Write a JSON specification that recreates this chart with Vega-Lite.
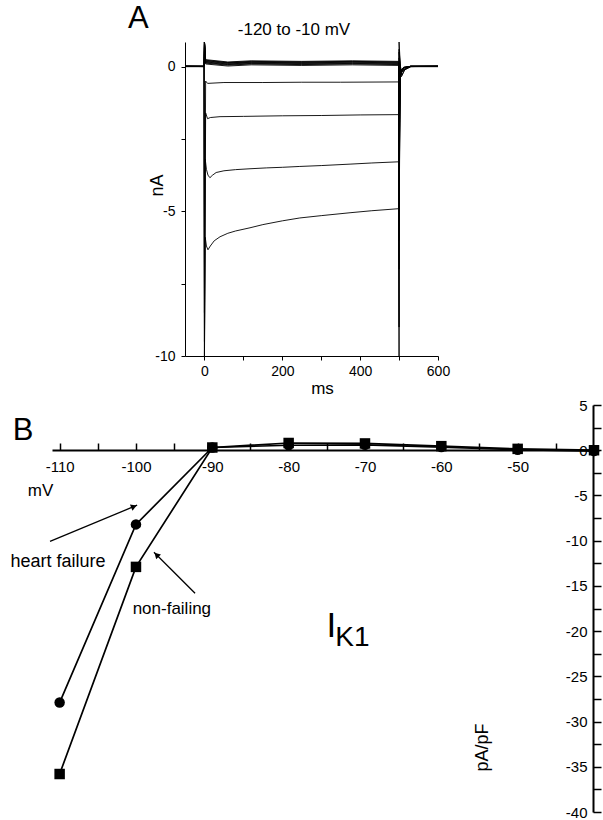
{
  "$schema": "https://vega.github.io/schema/vega-lite/v6.json",
  "width": 603,
  "height": 820,
  "autosize": {"type": "none"},
  "padding": 0,
  "config": {
    "font": "Liberation Sans",
    "view": {"stroke": null},
    "axis": {"grid": false, "domainColor": "black", "tickColor": "black", "labelColor": "black", "titleColor": "black", "labelFont": "Liberation Sans", "titleFont": "Liberation Sans", "titleFontWeight": "normal", "labelFlush": false, "labelOverlap": false},
    "text": {"font": "Liberation Sans", "color": "black"}
  },
  "resolve": {"scale": {"x": "independent", "y": "independent", "shape": "independent"}, "axis": {"x": "independent", "y": "independent"}},
  "layer": [
    {
      "layer": [
        {
          "data": {"values": [
            {"v": -120, "i": 0, "t": -50, "I": 0.02}, {"v": -120, "i": 1, "t": -1, "I": 0}, {"v": -120, "i": 2, "t": 0, "I": -10}, {"v": -120, "i": 3, "t": 2, "I": -5.9}, {"v": -120, "i": 4, "t": 5, "I": -6.2}, {"v": -120, "i": 5, "t": 9, "I": -6.33}, {"v": -120, "i": 6, "t": 15, "I": -6.2}, {"v": -120, "i": 7, "t": 25, "I": -6.02}, {"v": -120, "i": 8, "t": 40, "I": -5.88}, {"v": -120, "i": 9, "t": 60, "I": -5.76}, {"v": -120, "i": 10, "t": 80, "I": -5.68}, {"v": -120, "i": 11, "t": 117, "I": -5.57}, {"v": -120, "i": 12, "t": 150, "I": -5.46}, {"v": -120, "i": 13, "t": 200, "I": -5.33}, {"v": -120, "i": 14, "t": 245, "I": -5.23}, {"v": -120, "i": 15, "t": 300, "I": -5.15}, {"v": -120, "i": 16, "t": 374, "I": -5.05}, {"v": -120, "i": 17, "t": 430, "I": -4.98}, {"v": -120, "i": 18, "t": 499, "I": -4.91}, {"v": -120, "i": 19, "t": 500, "I": -10}, {"v": -120, "i": 20, "t": 500, "I": 0.85}, {"v": -120, "i": 21, "t": 503, "I": 0.1}, {"v": -120, "i": 22, "t": 506, "I": -0.35}, {"v": -120, "i": 23, "t": 515, "I": -0.1}, {"v": -120, "i": 24, "t": 530, "I": 0}, {"v": -120, "i": 25, "t": 600, "I": 0.02},
            {"v": -110, "i": 0, "t": -50, "I": 0.01}, {"v": -110, "i": 1, "t": -1, "I": 0}, {"v": -110, "i": 2, "t": 0, "I": -10}, {"v": -110, "i": 3, "t": 2, "I": -3.2}, {"v": -110, "i": 4, "t": 5, "I": -3.55}, {"v": -110, "i": 5, "t": 9, "I": -3.75}, {"v": -110, "i": 6, "t": 14, "I": -3.84}, {"v": -110, "i": 7, "t": 20, "I": -3.76}, {"v": -110, "i": 8, "t": 30, "I": -3.66}, {"v": -110, "i": 9, "t": 50, "I": -3.6}, {"v": -110, "i": 10, "t": 80, "I": -3.56}, {"v": -110, "i": 11, "t": 117, "I": -3.53}, {"v": -110, "i": 12, "t": 160, "I": -3.5}, {"v": -110, "i": 13, "t": 200, "I": -3.48}, {"v": -110, "i": 14, "t": 245, "I": -3.45}, {"v": -110, "i": 15, "t": 300, "I": -3.42}, {"v": -110, "i": 16, "t": 374, "I": -3.37}, {"v": -110, "i": 17, "t": 430, "I": -3.33}, {"v": -110, "i": 18, "t": 499, "I": -3.29}, {"v": -110, "i": 19, "t": 500, "I": -9}, {"v": -110, "i": 20, "t": 500, "I": 0.6}, {"v": -110, "i": 21, "t": 503, "I": 0.05}, {"v": -110, "i": 22, "t": 507, "I": -0.3}, {"v": -110, "i": 23, "t": 515, "I": -0.08}, {"v": -110, "i": 24, "t": 530, "I": 0}, {"v": -110, "i": 25, "t": 600, "I": 0.01},
            {"v": -100, "i": 0, "t": -50, "I": 0}, {"v": -100, "i": 1, "t": -1, "I": 0}, {"v": -100, "i": 2, "t": 0, "I": -9.5}, {"v": -100, "i": 3, "t": 3, "I": -1.6}, {"v": -100, "i": 4, "t": 8, "I": -1.8}, {"v": -100, "i": 5, "t": 15, "I": -1.76}, {"v": -100, "i": 6, "t": 40, "I": -1.73}, {"v": -100, "i": 7, "t": 100, "I": -1.72}, {"v": -100, "i": 8, "t": 200, "I": -1.7}, {"v": -100, "i": 9, "t": 300, "I": -1.69}, {"v": -100, "i": 10, "t": 400, "I": -1.67}, {"v": -100, "i": 11, "t": 499, "I": -1.66}, {"v": -100, "i": 12, "t": 500, "I": -7}, {"v": -100, "i": 13, "t": 500, "I": 0.5}, {"v": -100, "i": 14, "t": 504, "I": -0.2}, {"v": -100, "i": 15, "t": 510, "I": -0.15}, {"v": -100, "i": 16, "t": 530, "I": 0}, {"v": -100, "i": 17, "t": 600, "I": 0},
            {"v": -90, "i": 0, "t": -50, "I": 0}, {"v": -90, "i": 1, "t": -1, "I": 0}, {"v": -90, "i": 2, "t": 0, "I": -8.5}, {"v": -90, "i": 3, "t": 3, "I": -0.5}, {"v": -90, "i": 4, "t": 8, "I": -0.58}, {"v": -90, "i": 5, "t": 50, "I": -0.55}, {"v": -90, "i": 6, "t": 150, "I": -0.55}, {"v": -90, "i": 7, "t": 250, "I": -0.54}, {"v": -90, "i": 8, "t": 350, "I": -0.54}, {"v": -90, "i": 9, "t": 499, "I": -0.53}, {"v": -90, "i": 10, "t": 500, "I": -6}, {"v": -90, "i": 11, "t": 500, "I": 0.3}, {"v": -90, "i": 12, "t": 505, "I": -0.15}, {"v": -90, "i": 13, "t": 530, "I": 0}, {"v": -90, "i": 14, "t": 600, "I": 0},
            {"v": -80, "i": 0, "t": -50, "I": 0.01}, {"v": -80, "i": 1, "t": -1, "I": 0.01}, {"v": -80, "i": 2, "t": 0, "I": 0.85}, {"v": -80, "i": 3, "t": 3, "I": 0.09}, {"v": -80, "i": 4, "t": 60, "I": 0.02}, {"v": -80, "i": 5, "t": 120, "I": 0.06}, {"v": -80, "i": 6, "t": 250, "I": 0.04}, {"v": -80, "i": 7, "t": 380, "I": 0.06}, {"v": -80, "i": 8, "t": 499, "I": 0.04}, {"v": -80, "i": 9, "t": 500, "I": -5.5}, {"v": -80, "i": 10, "t": 503, "I": -0.3}, {"v": -80, "i": 11, "t": 512, "I": -0.05}, {"v": -80, "i": 12, "t": 530, "I": 0.01}, {"v": -80, "i": 13, "t": 600, "I": 0.01},
            {"v": -70, "i": 0, "t": -50, "I": 0.01}, {"v": -70, "i": 1, "t": -1, "I": 0.01}, {"v": -70, "i": 2, "t": 0, "I": 0.85}, {"v": -70, "i": 3, "t": 3, "I": 0.12}, {"v": -70, "i": 4, "t": 60, "I": 0.05}, {"v": -70, "i": 5, "t": 120, "I": 0.09}, {"v": -70, "i": 6, "t": 250, "I": 0.07}, {"v": -70, "i": 7, "t": 380, "I": 0.09}, {"v": -70, "i": 8, "t": 499, "I": 0.07}, {"v": -70, "i": 9, "t": 500, "I": -5}, {"v": -70, "i": 10, "t": 503, "I": -0.3}, {"v": -70, "i": 11, "t": 512, "I": -0.05}, {"v": -70, "i": 12, "t": 530, "I": 0.01}, {"v": -70, "i": 13, "t": 600, "I": 0.01},
            {"v": -60, "i": 0, "t": -50, "I": 0.01}, {"v": -60, "i": 1, "t": -1, "I": 0.01}, {"v": -60, "i": 2, "t": 0, "I": 0.85}, {"v": -60, "i": 3, "t": 3, "I": 0.14}, {"v": -60, "i": 4, "t": 60, "I": 0.07}, {"v": -60, "i": 5, "t": 120, "I": 0.11}, {"v": -60, "i": 6, "t": 250, "I": 0.09}, {"v": -60, "i": 7, "t": 380, "I": 0.11}, {"v": -60, "i": 8, "t": 499, "I": 0.09}, {"v": -60, "i": 9, "t": 500, "I": -4.5}, {"v": -60, "i": 10, "t": 503, "I": -0.28}, {"v": -60, "i": 11, "t": 512, "I": -0.05}, {"v": -60, "i": 12, "t": 530, "I": 0.01}, {"v": -60, "i": 13, "t": 600, "I": 0.01},
            {"v": -50, "i": 0, "t": -50, "I": 0.01}, {"v": -50, "i": 1, "t": -1, "I": 0.01}, {"v": -50, "i": 2, "t": 0, "I": 0.85}, {"v": -50, "i": 3, "t": 3, "I": 0.16}, {"v": -50, "i": 4, "t": 60, "I": 0.09}, {"v": -50, "i": 5, "t": 120, "I": 0.13}, {"v": -50, "i": 6, "t": 250, "I": 0.11}, {"v": -50, "i": 7, "t": 380, "I": 0.13}, {"v": -50, "i": 8, "t": 499, "I": 0.11}, {"v": -50, "i": 9, "t": 500, "I": -4}, {"v": -50, "i": 10, "t": 503, "I": -0.25}, {"v": -50, "i": 11, "t": 512, "I": -0.04}, {"v": -50, "i": 12, "t": 530, "I": 0.01}, {"v": -50, "i": 13, "t": 600, "I": 0.01},
            {"v": -40, "i": 0, "t": -50, "I": 0.01}, {"v": -40, "i": 1, "t": -1, "I": 0.01}, {"v": -40, "i": 2, "t": 0, "I": 0.85}, {"v": -40, "i": 3, "t": 3, "I": 0.18}, {"v": -40, "i": 4, "t": 60, "I": 0.11}, {"v": -40, "i": 5, "t": 120, "I": 0.15}, {"v": -40, "i": 6, "t": 250, "I": 0.13}, {"v": -40, "i": 7, "t": 380, "I": 0.15}, {"v": -40, "i": 8, "t": 499, "I": 0.13}, {"v": -40, "i": 9, "t": 500, "I": -3.5}, {"v": -40, "i": 10, "t": 503, "I": -0.22}, {"v": -40, "i": 11, "t": 512, "I": -0.04}, {"v": -40, "i": 12, "t": 530, "I": 0.01}, {"v": -40, "i": 13, "t": 600, "I": 0.01},
            {"v": -30, "i": 0, "t": -50, "I": 0.01}, {"v": -30, "i": 1, "t": -1, "I": 0.01}, {"v": -30, "i": 2, "t": 0, "I": 0.85}, {"v": -30, "i": 3, "t": 3, "I": 0.2}, {"v": -30, "i": 4, "t": 60, "I": 0.13}, {"v": -30, "i": 5, "t": 120, "I": 0.16}, {"v": -30, "i": 6, "t": 250, "I": 0.15}, {"v": -30, "i": 7, "t": 380, "I": 0.17}, {"v": -30, "i": 8, "t": 499, "I": 0.15}, {"v": -30, "i": 9, "t": 500, "I": -3}, {"v": -30, "i": 10, "t": 503, "I": -0.2}, {"v": -30, "i": 11, "t": 512, "I": -0.03}, {"v": -30, "i": 12, "t": 530, "I": 0.01}, {"v": -30, "i": 13, "t": 600, "I": 0.01},
            {"v": -20, "i": 0, "t": -50, "I": 0.01}, {"v": -20, "i": 1, "t": -1, "I": 0.01}, {"v": -20, "i": 2, "t": 0, "I": 0.85}, {"v": -20, "i": 3, "t": 3, "I": 0.22}, {"v": -20, "i": 4, "t": 60, "I": 0.14}, {"v": -20, "i": 5, "t": 120, "I": 0.18}, {"v": -20, "i": 6, "t": 250, "I": 0.16}, {"v": -20, "i": 7, "t": 380, "I": 0.18}, {"v": -20, "i": 8, "t": 499, "I": 0.16}, {"v": -20, "i": 9, "t": 500, "I": -2.5}, {"v": -20, "i": 10, "t": 503, "I": -0.18}, {"v": -20, "i": 11, "t": 512, "I": -0.03}, {"v": -20, "i": 12, "t": 530, "I": 0.01}, {"v": -20, "i": 13, "t": 600, "I": 0.01},
            {"v": -10, "i": 0, "t": -50, "I": 0.01}, {"v": -10, "i": 1, "t": -1, "I": 0.01}, {"v": -10, "i": 2, "t": 0, "I": 0.85}, {"v": -10, "i": 3, "t": 3, "I": 0.24}, {"v": -10, "i": 4, "t": 60, "I": 0.16}, {"v": -10, "i": 5, "t": 120, "I": 0.2}, {"v": -10, "i": 6, "t": 250, "I": 0.18}, {"v": -10, "i": 7, "t": 380, "I": 0.2}, {"v": -10, "i": 8, "t": 499, "I": 0.18}, {"v": -10, "i": 9, "t": 500, "I": -2}, {"v": -10, "i": 10, "t": 503, "I": -0.15}, {"v": -10, "i": 11, "t": 512, "I": -0.02}, {"v": -10, "i": 12, "t": 530, "I": 0.01}, {"v": -10, "i": 13, "t": 600, "I": 0.01}
          ]},
          "mark": {"type": "line", "color": "black", "strokeWidth": 0.9},
          "encoding": {
            "x": {"field": "t", "type": "quantitative", "scale": {"domain": [-50, 600], "range": [185, 438], "nice": false, "zero": false},
              "axis": {"orient": "bottom", "offset": -464, "title": "ms", "values": [0, 100, 200, 300, 400, 500, 600], "labelExpr": "datum.value % 200 === 0 ? '' + datum.value : ''", "tickSize": 4, "labelPadding": 4, "labelFontSize": 14, "titleFontSize": 17, "titleX": 322, "titleY": 32, "titleAlign": "center", "titleBaseline": "middle", "domainWidth": 1, "tickWidth": 1}},
            "y": {"field": "I", "type": "quantitative", "scale": {"domain": [-10, 0.85], "range": [356, 42], "nice": false, "zero": false},
              "axis": {"orient": "left", "offset": -185, "title": "nA", "values": [-10, -7.5, -5, -2.5, 0], "labelExpr": "datum.value % 5 === 0 ? '' + datum.value : ''", "tickSize": 4, "labelPadding": 6, "labelFontSize": 14, "titleFontSize": 18, "titleX": -28, "titleY": 185, "titleAngle": 270, "titleAlign": "center", "titleBaseline": "middle", "domainWidth": 1, "tickWidth": 1}},
            "detail": {"field": "v", "type": "nominal"},
            "order": {"field": "i", "type": "quantitative"}
          }
        },
        {
          "data": {"values": [{"label": "A", "t": -170, "I": 1.65}]},
          "mark": {"type": "text", "fontSize": 31, "align": "center", "baseline": "middle"},
          "encoding": {
            "x": {"field": "t", "type": "quantitative"},
            "y": {"field": "I", "type": "quantitative"},
            "text": {"field": "label"}
          }
        },
        {
          "data": {"values": [{"label": "-120 to -10 mV", "t": 230, "I": 1.28}]},
          "mark": {"type": "text", "fontSize": 17, "align": "center", "baseline": "middle"},
          "encoding": {
            "x": {"field": "t", "type": "quantitative"},
            "y": {"field": "I", "type": "quantitative"},
            "text": {"field": "label"}
          }
        }
      ]
    },
    {
      "layer": [
        {
          "data": {"values": [
            {"g": "heart failure", "mv": -110, "I": -27.9}, {"g": "heart failure", "mv": -100, "I": -8.2}, {"g": "heart failure", "mv": -90, "I": 0.3}, {"g": "heart failure", "mv": -80, "I": 0.55}, {"g": "heart failure", "mv": -70, "I": 0.6}, {"g": "heart failure", "mv": -60, "I": 0.35}, {"g": "heart failure", "mv": -50, "I": 0.05}, {"g": "heart failure", "mv": -40, "I": -0.1},
            {"g": "non-failing", "mv": -110, "I": -35.8}, {"g": "non-failing", "mv": -100, "I": -12.9}, {"g": "non-failing", "mv": -90, "I": 0.3}, {"g": "non-failing", "mv": -80, "I": 0.8}, {"g": "non-failing", "mv": -70, "I": 0.75}, {"g": "non-failing", "mv": -60, "I": 0.45}, {"g": "non-failing", "mv": -50, "I": 0.15}, {"g": "non-failing", "mv": -40, "I": 0}
          ]},
          "layer": [
            {
              "mark": {"type": "line", "color": "black", "strokeWidth": 1.7},
              "encoding": {
                "x": {"field": "mv", "type": "quantitative", "scale": {"domain": [-111, -40], "range": [52, 594], "nice": false, "zero": false},
                  "axis": {"orient": "top", "offset": -450, "title": "mV", "values": [-110, -105, -100, -95, -90, -85, -80, -75, -70, -65, -60, -55, -50, -45], "labelExpr": "datum.value % 10 === 0 ? '' + datum.value : ''", "tickSize": 7, "labelPadding": -16, "labelBaseline": "top", "labelFontSize": 15, "domainWidth": 2, "tickWidth": 1.5, "titleFontSize": 17, "titleX": 40, "titleY": 40, "titleAlign": "center", "titleBaseline": "middle", "titleAngle": 0}},
                "y": {"field": "I", "type": "quantitative", "scale": {"domain": [-40, 5], "range": [812, 405], "nice": false, "zero": false},
                  "axis": {"orient": "right", "offset": -10, "title": "pA/pF", "values": [-40, -37.5, -35, -32.5, -30, -27.5, -25, -22.5, -20, -17.5, -15, -12.5, -10, -7.5, -5, -2.5, 0, 2.5, 5], "labelExpr": "datum.value % 5 === 0 ? '' + datum.value : ''", "tickSize": 8, "labelPadding": -14, "labelAlign": "right", "labelFontSize": 15, "domainWidth": 2, "tickWidth": 1.5, "titleFontSize": 18, "titleX": -111, "titleY": 747, "titleAngle": 270, "titleAlign": "center", "titleBaseline": "middle"}},
                "detail": {"field": "g", "type": "nominal"}
              }
            },
            {
              "mark": {"type": "point", "filled": true, "color": "black", "opacity": 1, "size": 110},
              "encoding": {
                "x": {"field": "mv", "type": "quantitative"},
                "y": {"field": "I", "type": "quantitative"},
                "shape": {"field": "g", "type": "nominal", "scale": {"domain": ["heart failure", "non-failing"], "range": ["circle", "square"]}, "legend": null}
              }
            }
          ]
        },
        {
          "data": {"values": [{"mv": -111.26, "I": -10.07, "mv2": -99.85, "I2": -6.08}, {"mv": -92.26, "I": -15.82, "mv2": -97.64, "I2": -11.28}]},
          "mark": {"type": "rule", "color": "black", "strokeWidth": 1.3},
          "encoding": {
            "x": {"field": "mv", "type": "quantitative"},
            "y": {"field": "I", "type": "quantitative"},
            "x2": {"field": "mv2"},
            "y2": {"field": "I2"}
          }
        },
        {
          "data": {"values": [{"mv": -100.27, "I": -6.23}]},
          "mark": {"type": "point", "shape": "triangle-up", "filled": true, "color": "black", "opacity": 1, "size": 45, "angle": 67.5},
          "encoding": {
            "x": {"field": "mv", "type": "quantitative"},
            "y": {"field": "I", "type": "quantitative"}
          }
        },
        {
          "data": {"values": [{"mv": -97.31, "I": -11.56}]},
          "mark": {"type": "point", "shape": "triangle-up", "filled": true, "color": "black", "opacity": 1, "size": 45, "angle": 315},
          "encoding": {
            "x": {"field": "mv", "type": "quantitative"},
            "y": {"field": "I", "type": "quantitative"}
          }
        },
        {
          "data": {"values": [{"label": "B", "mv": -114.8, "I": 2.1}]},
          "mark": {"type": "text", "fontSize": 31, "align": "center", "baseline": "middle"},
          "encoding": {"x": {"field": "mv", "type": "quantitative"}, "y": {"field": "I", "type": "quantitative"}, "text": {"field": "label"}}
        },
        {
          "data": {"values": [{"label": "heart failure", "mv": -110.2, "I": -12.4}]},
          "mark": {"type": "text", "fontSize": 18, "align": "center", "baseline": "middle"},
          "encoding": {"x": {"field": "mv", "type": "quantitative"}, "y": {"field": "I", "type": "quantitative"}, "text": {"field": "label"}}
        },
        {
          "data": {"values": [{"label": "non-failing", "mv": -95.3, "I": -17.5}]},
          "mark": {"type": "text", "fontSize": 17, "align": "center", "baseline": "middle"},
          "encoding": {"x": {"field": "mv", "type": "quantitative"}, "y": {"field": "I", "type": "quantitative"}, "text": {"field": "label"}}
        },
        {
          "data": {"values": [{"label": "I", "mv": -74.4, "I": -19.4}]},
          "mark": {"type": "text", "fontSize": 35, "align": "center", "baseline": "middle"},
          "encoding": {"x": {"field": "mv", "type": "quantitative"}, "y": {"field": "I", "type": "quantitative"}, "text": {"field": "label"}}
        },
        {
          "data": {"values": [{"label": "K1", "mv": -73.9, "I": -20.8}]},
          "mark": {"type": "text", "fontSize": 28, "align": "left", "baseline": "middle"},
          "encoding": {"x": {"field": "mv", "type": "quantitative"}, "y": {"field": "I", "type": "quantitative"}, "text": {"field": "label"}}
        }
      ]
    }
  ]
}
